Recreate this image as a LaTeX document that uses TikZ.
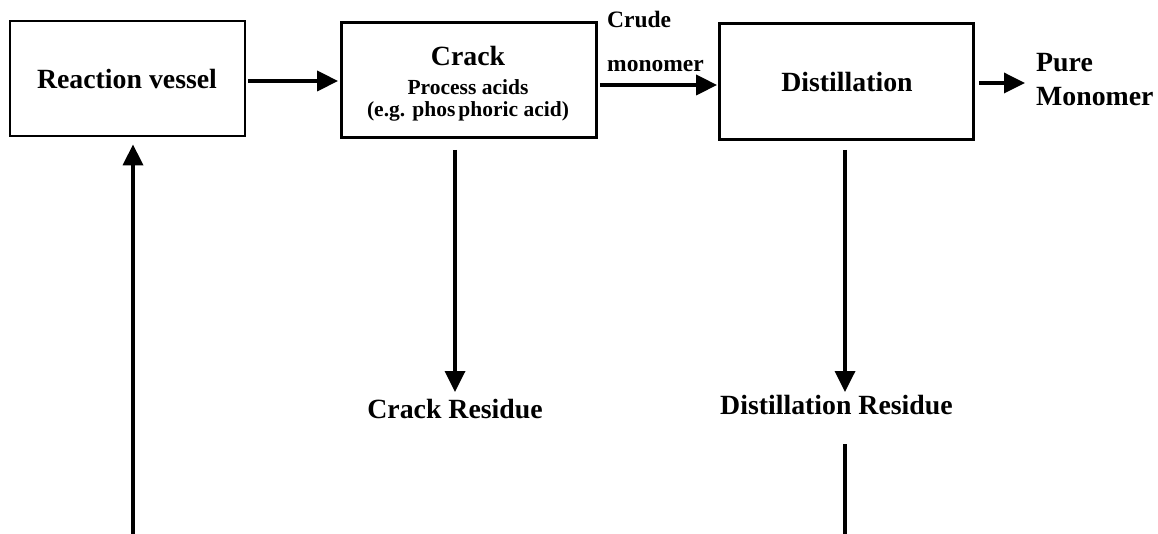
\documentclass[tikz,border=0pt]{standalone}
\usepackage{fontspec}
\setmainfont{Liberation Serif}
\usetikzlibrary{arrows.meta}
\begin{document}
\begin{tikzpicture}[x=1pt,y=-1pt,
  box/.style={draw, line width=2.8pt, inner sep=0pt, minimum height=115pt},
  big/.style={inner sep=0pt, font=\fontsize{27.8}{30}\selectfont\bfseries},
  mid/.style={inner sep=0pt, font=\fontsize{23.5}{26}\selectfont\bfseries},
  small/.style={inner sep=0pt, font=\fontsize{21.5}{24}\selectfont\bfseries},
  arr/.style={line width=3.5pt, -{Triangle[length=21pt,width=20pt]}},
  plain/.style={line width=3.5pt}]
\useasboundingbox (0,0) rectangle (1158,534);
% boxes
\node[box, minimum width=235pt] (rv) at (127.5,78.5) {};
\node[big, anchor=base] (rvt) at (127,89) {Reaction vessel};
\node[box, minimum width=255pt] (crack) at (469,80) {};
\node[big, anchor=base] (crackt) at (468,66) {Crack};
\node[small, anchor=base] (crackp) at (468,95) {Process acids};
\node[small, anchor=base] (cracke) at (468,117) {(e.g. phos\kern3pt phoric acid)};
\node[box, minimum width=254pt, minimum height=116pt] (dist) at (846.5,81.5) {};
\node[big, anchor=base] (distt) at (847,92) {Distillation};
% labels
\node[mid, anchor=base west] (crude) at (607,28) {Crude};
\node[mid, anchor=base west] (mono) at (607,72) {monomer};
\node[big, anchor=base west] (pure) at (1036,72) {Pure};
\node[big, anchor=base west] (pmono) at (1036,106) {Monomer};
\node[big, anchor=base] (cres) at (455,418) {Crack Residue};
\node[big, anchor=base west] (dres) at (720,414) {Distillation Residue};
% connector anchors
\coordinate (cres top) at (455,392);
\coordinate (dres top) at (845,392);
\coordinate (dres low) at (845,444);
\coordinate (bottomR) at (845,534);
\coordinate (bottomL) at (133,534);
% connectors
\draw[arr, shorten <=2pt, shorten >=2pt] (rv.east |- 0,81) -- (crack.west |- 0,81);
\draw[arr, shorten <=2pt, shorten >=1pt] (crack.east |- 0,85) -- (dist.west |- 0,85);
\draw[arr, shorten <=4pt] (dist.east |- 0,83) -- (1025,83) coordinate (pureend);
\draw[arr] (cres top |- 0,150) -- (cres top);
\draw[arr] (dres top |- 0,150) -- (dres top);
\draw[plain] (dres low) -- (bottomR);
\draw[arr, shorten >=7pt] (bottomL) -- (bottomL |- rv.south);
\end{tikzpicture}
\end{document}
